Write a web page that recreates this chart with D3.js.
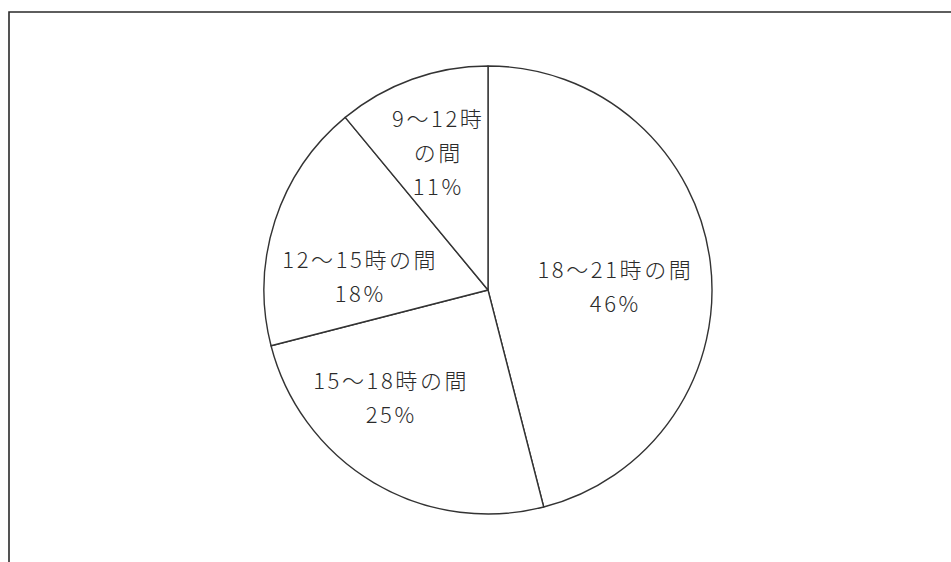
<!DOCTYPE html>
<html lang="ja">
<head>
<meta charset="utf-8">
<script src="https://cdn.jsdelivr.net/npm/d3@7"></script>
<style>
  html, body { margin: 0; padding: 0; background: #fff; }
  svg { display: block; }
</style>
</head>
<body>
<svg id="chart" width="951" height="562"></svg>
<script>
// Time slots (clockwise from 12 o'clock) and their shares in percent
const categories = ["18〜21時の間", "15〜18時の間", "12〜15時の間", "9〜12時の間"];
const values = [46, 25, 18, 11];
const percentLabels = values.map(v => v + "%");

// Layout
const W = 951, H = 562;
const cx = 488, cy = 290, R = 224;
const fontSize = 22, lineGap = 34, tracking = 2.6;
// Label anchor relative to pie centre, in units of the radius
const labelAnchor = [[0.563, -0.022], [-0.438, 0.473], [-0.576, -0.067], [-0.228, -0.62]];
// Slices whose category text is broken after "時"
const breakAfterHour = [false, false, false, true];

const svg = d3.select("#chart");

// Frame lines along the top and left edge
svg.append("path")
  .attr("d", d3.line()([[9, H], [9, 12], [W, 12]]))
  .attr("fill", "none")
  .attr("stroke", "#2a2a2a")
  .attr("stroke-width", 1.6);

const pie = d3.pie().sort(null).value(d => d)(values);
const arc = d3.arc().innerRadius(0).outerRadius(R);

const g = svg.append("g").attr("transform", `translate(${cx},${cy})`);

g.selectAll("path.slice")
  .data(pie)
  .join("path")
  .attr("class", "slice")
  .attr("d", arc)
  .attr("fill", "#fff")
  .attr("stroke", "#333")
  .attr("stroke-width", 1.4)
  .attr("stroke-linejoin", "round");

const labels = g.selectAll("text.lbl")
  .data(pie)
  .join("text")
  .attr("class", "lbl")
  .attr("font-family", "'Noto Sans CJK JP', 'Noto Sans', sans-serif")
  .attr("font-size", fontSize)
  .attr("font-weight", 300)
  .attr("letter-spacing", tracking)
  .attr("fill", "#2b2b2b")
  .attr("text-anchor", "middle");

labels.each(function(d, i) {
  const cat = categories[i];
  let lines;
  if (breakAfterHour[i]) {
    const k = cat.indexOf("時") + 1;
    lines = [cat.slice(0, k), cat.slice(k), percentLabels[i]];
  } else {
    lines = [cat, percentLabels[i]];
  }
  // letter-spacing also trails the last glyph; shift to keep lines centred
  const ax = labelAnchor[i][0] * R + tracking / 2, ay = labelAnchor[i][1] * R;
  const top = ay - (lines.length - 1) * lineGap / 2;
  d3.select(this).selectAll("tspan")
    .data(lines)
    .join("tspan")
    .attr("x", ax)
    .attr("y", (l, j) => top + j * lineGap)
    .attr("dominant-baseline", "central")
    .text(l => l);
});
</script>
</body>
</html>
